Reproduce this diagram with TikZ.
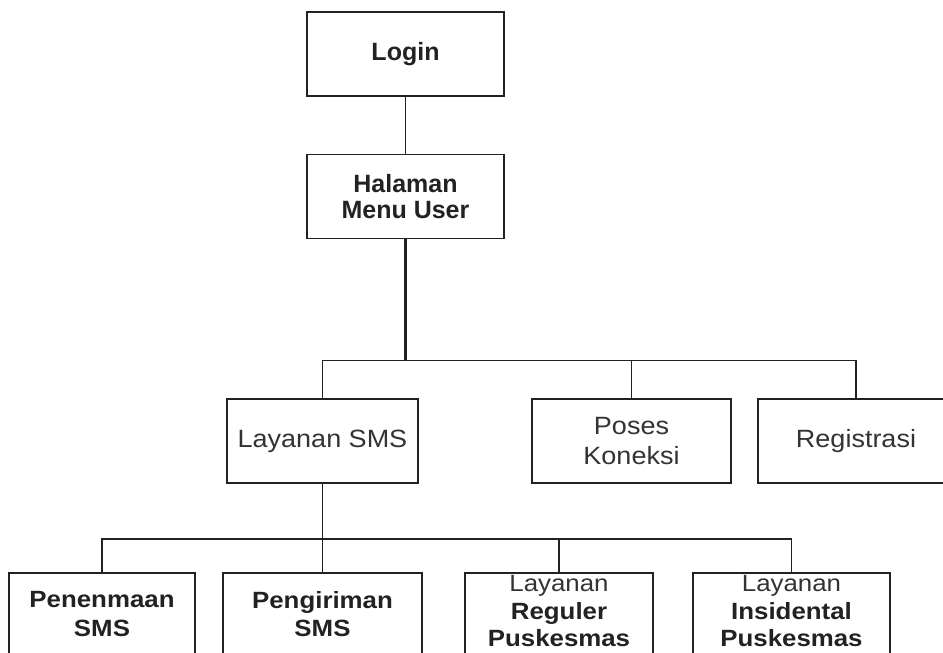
\documentclass[tikz,border=0pt]{standalone}
\usepackage{fontspec}
\setmainfont{Liberation Sans}
\newfontfamily\widefont[FakeStretch=1.08]{Liberation Sans}
\newfontfamily\widerfont[FakeStretch=1.1]{Liberation Sans}
\definecolor{ink}{HTML}{222222}
\definecolor{inkgray}{HTML}{333333}
\tikzset{
  box/.style={draw=ink, line width=1.4pt, inner sep=0pt, outer sep=0pt, align=center, text=ink},
  topbox/.style={box, minimum width=197pt, minimum height=84pt, font=\bfseries\fontsize{25}{26.5}\selectfont},
  midbox/.style={box, minimum height=84pt, font=\widefont\fontsize{25}{30}\selectfont, text=inkgray},
  lowbox/.style={box, minimum height=82pt, font=\widerfont\fontsize{23.5}{28.5}\selectfont},
  lowtext/.style={inner sep=0pt, align=center, text=ink, font=\widerfont\fontsize{23.5}{27.5}\selectfont},
  link/.style={draw=ink, line width=1.3pt},
  thicklink/.style={draw=ink, line width=3pt}
}
\begin{document}
\begin{tikzpicture}[x=1pt,y=-1pt]
\useasboundingbox (0,0) rectangle (943,653);
\clip (0,0) rectangle (943,653);
\fill[white] (0,0) rectangle (943,653);
% level 0/1
\node[topbox] (login) at (405.5,54) {Login};
\node[topbox] (menu) at (405.5,196.5) {Halaman\\Menu User};
% level 2
\node[midbox, minimum width=191pt] (sms) at (322.5,441) {Layanan SMS};
\node[midbox, minimum width=199pt] (kon) at (631.5,441) {Poses\\Koneksi};
\node[midbox, minimum width=196pt] (reg) at (856,441) {Registrasi};
% level 3
\node[lowbox, minimum width=186pt] (terima) at (102,614) {\bfseries Penenmaan\\\bfseries SMS};
\node[lowbox, minimum width=199pt] (kirim) at (322.5,614) {\bfseries Pengiriman\\\bfseries SMS};
\node[lowbox, minimum width=188pt] (reguler) at (559,614) {};
\node[lowtext] (regulertext) at (559,611.5) {{\color{inkgray}Layanan}\\\bfseries Reguler\\\bfseries Puskesmas};
\node[lowbox, minimum width=197pt] (insid) at (791.5,614) {};
\node[lowtext] (insidtext) at (791.5,611.5) {{\color{inkgray}Layanan}\\\bfseries Insidental\\\bfseries Puskesmas};
% connectors
\coordinate (j1) at ([yshift=-122pt]menu.south);
\coordinate (j2) at ([yshift=-56pt]sms.south);
\draw[link] (login.south) -- (menu.north);
\draw[thicklink] (menu.south) -- (j1);
\draw[link] (sms.north) -- (sms.north |- j1) -| (reg.north);
\draw[link] (kon.north) -- (kon.north |- j1);
\draw[link] (sms.south) -- (j2);
\draw[link] (terima.north) -- (terima.north |- j2) -| (insid.north);
\draw[link] (kirim.north) -- (kirim.north |- j2);
\draw[link] (reguler.north) -- (reguler.north |- j2);
\end{tikzpicture}
\end{document}
